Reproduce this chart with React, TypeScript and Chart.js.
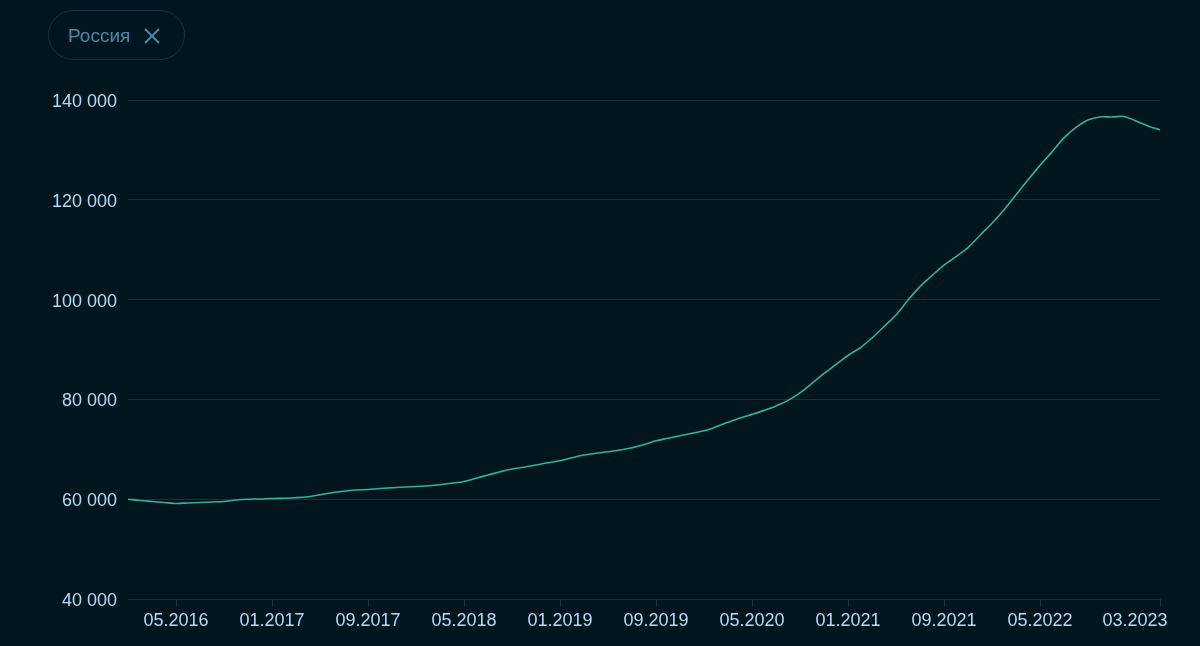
import { useEffect, useRef } from "react";
import { Chart, registerables } from "chart.js";

Chart.register(...registerables);

const SERIES_NAME = "Россия";

const MONTHS = [
  "01.2016", "02.2016", "03.2016", "04.2016", "05.2016", "06.2016", "07.2016", "08.2016", "09.2016", "10.2016", "11.2016", "12.2016",
  "01.2017", "02.2017", "03.2017", "04.2017", "05.2017", "06.2017", "07.2017", "08.2017", "09.2017", "10.2017", "11.2017", "12.2017",
  "01.2018", "02.2018", "03.2018", "04.2018", "05.2018", "06.2018", "07.2018", "08.2018", "09.2018", "10.2018", "11.2018", "12.2018",
  "01.2019", "02.2019", "03.2019", "04.2019", "05.2019", "06.2019", "07.2019", "08.2019", "09.2019", "10.2019", "11.2019", "12.2019",
  "01.2020", "02.2020", "03.2020", "04.2020", "05.2020", "06.2020", "07.2020", "08.2020", "09.2020", "10.2020", "11.2020", "12.2020",
  "01.2021", "02.2021", "03.2021", "04.2021", "05.2021", "06.2021", "07.2021", "08.2021", "09.2021", "10.2021", "11.2021", "12.2021",
  "01.2022", "02.2022", "03.2022", "04.2022", "05.2022", "06.2022", "07.2022", "08.2022", "09.2022", "10.2022", "11.2022", "12.2022",
  "01.2023", "02.2023", "03.2023",
];

const VALUES = [
  60000, 59750, 59550, 59350, 59150, 59250, 59350, 59450, 59550, 59850, 60000, 60050,
  60150, 60200, 60300, 60500, 60900, 61300, 61600, 61850, 61950, 62150, 62300, 62450,
  62550, 62700, 62900, 63200, 63550, 64200, 64850, 65500, 66050, 66400, 66850, 67300,
  67700, 68300, 68850, 69200, 69500, 69850, 70300, 70950, 71700, 72200, 72700, 73200,
  73700, 74500, 75400, 76250, 77000, 77800, 78700, 79800, 81300, 83200, 85200, 87000,
  88800, 90300, 92300, 94600, 96900, 99900, 102600, 104800, 106900, 108600, 110400, 112900,
  115300, 118000, 121000, 124000, 126900, 129600, 132400, 134500, 136000, 136600, 136600, 136700,
  135800, 134800, 134000,
];

const X_TICK_LABELS = [
  "05.2016", "01.2017", "09.2017", "05.2018", "01.2019", "09.2019",
  "05.2020", "01.2021", "09.2021", "05.2022", "03.2023",
];

const Y_TICK_VALUES = [40000, 60000, 80000, 100000, 120000, 140000];

const BG = "#01151f";
const GRID = "#1f2e3c";
const TICK_COLOR = "#b2dbf4";
const LINE_COLOR = "#2eb59c";
const CHIP_COLOR = "#468bae";
const FONT = '"Liberation Sans", Arial, sans-serif';

const fmt = (v: number) => String(v).replace(/\B(?=(\d{3})+(?!\d))/g, " ");

export default function App() {
  const ref = useRef<HTMLCanvasElement>(null);

  useEffect(() => {
    const lastLabel = MONTHS[MONTHS.length - 1];
    const chart = new Chart(ref.current as HTMLCanvasElement, {
      type: "line",
      data: {
        labels: MONTHS,
        datasets: [
          {
            label: SERIES_NAME,
            data: VALUES,
            borderColor: LINE_COLOR,
            borderWidth: 1.6,
            pointRadius: 0,
            pointHoverRadius: 0,
            tension: 0.35,
            fill: false,
          },
        ],
      },
      options: {
        animation: false,
        responsive: false,
        maintainAspectRatio: false,
        layout: { padding: { left: 0, right: 40, top: 100, bottom: 0 } },
        plugins: { legend: { display: false }, tooltip: { enabled: false } },
        scales: {
          x: {
            type: "category",
            offset: false,
            grid: { drawOnChartArea: false, drawTicks: true, tickLength: 8, color: GRID, lineWidth: 1 },
            border: { display: true, color: GRID, width: 1 },
            ticks: {
              autoSkip: false,
              maxRotation: 0,
              minRotation: 0,
              padding: 3,
              color: TICK_COLOR,
              font: { family: FONT, size: 18 },
              callback: function (value: any) {
                const l = MONTHS[value as number];
                return l === lastLabel ? l + "          " : l;
              },
            },
            afterBuildTicks: (scale: any) => {
              scale.ticks = X_TICK_LABELS.map((l) => ({ value: MONTHS.indexOf(l) }));
            },
            afterFit: (scale: any) => {
              scale.height = 47;
              scale.paddingLeft = 0;
              scale.paddingRight = 0;
            },
          },
          y: {
            min: 40000,
            max: 140000,
            grid: { color: GRID, drawTicks: false, lineWidth: 1 },
            border: { display: false },
            ticks: {
              padding: 11,
              labelOffset: 2,
              color: TICK_COLOR,
              font: { family: FONT, size: 18 },
              callback: (v: any) => fmt(Number(v)),
            },
            afterBuildTicks: (scale: any) => {
              scale.ticks = Y_TICK_VALUES.map((v) => ({ value: v }));
            },
            afterFit: (scale: any) => {
              scale.width = 128;
              scale.paddingTop = 0;
              scale.paddingBottom = 0;
            },
          },
        },
      },
    } as any);
    return () => chart.destroy();
  }, []);

  return (
    <div
      style={{
        position: "fixed",
        left: 0,
        top: 0,
        width: 1200,
        height: 646,
        background: BG,
        overflow: "hidden",
      }}
    >
      <canvas ref={ref} width={1200} height={646} style={{ display: "block", position: "absolute", left: 0, top: 0 }} />
      <div
        style={{
          position: "absolute",
          left: 48,
          top: 10,
          width: 137,
          height: 50,
          boxSizing: "border-box",
          border: "1px solid #1a3342",
          borderRadius: 25,
        }}
      />
      <span
        style={{
          position: "absolute",
          left: 68,
          top: 26,
          fontFamily: FONT,
          fontSize: 19,
          lineHeight: "19px",
          color: CHIP_COLOR,
          whiteSpace: "nowrap",
        }}
      >
        {SERIES_NAME}
      </span>
      <svg
        width={16}
        height={16}
        viewBox="0 0 16 16"
        style={{ position: "absolute", left: 144, top: 28 }}
      >
        <line x1="1" y1="1" x2="15" y2="15" stroke={CHIP_COLOR} strokeWidth={2} />
        <line x1="15" y1="1" x2="1" y2="15" stroke={CHIP_COLOR} strokeWidth={2} />
      </svg>
    </div>
  );
}
